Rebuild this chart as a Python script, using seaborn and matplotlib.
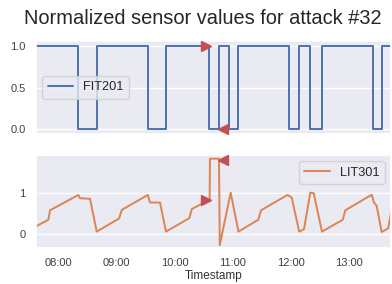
import pandas as pd
import numpy as np
import matplotlib
matplotlib.use("Agg")
import matplotlib.pyplot as plt
import matplotlib.dates as mdates
import seaborn as sns

# ---- data ----
fit_times = ["07:36:00", "08:20:30", "08:39:30", "09:32:20", "09:51:10", "10:36:00",
             "10:46:20", "10:56:40", "11:05:20", "11:58:50", "12:08:50", "12:20:10",
             "12:32:20", "13:25:00", "13:34:20", "13:47:00"]
fit_vals = [1, 0, 1, 0, 1, 0, 1, 0, 1, 0, 1, 0, 1, 0, 1, 1]

lit_times = ["07:36:00", "07:49:25", "07:51:10", "08:20:30", "08:22:10", "08:32:35",
             "08:39:30", "09:02:35", "09:05:25", "09:32:20", "09:34:40", "09:45:00",
             "09:51:10", "10:15:20", "10:17:50", "10:36:20", "10:36:40", "10:46:00",
             "10:46:50", "10:58:05", "11:06:10", "11:26:40", "11:29:30", "11:56:55",
             "12:01:15", "12:09:00", "12:14:00", "12:20:30", "12:24:00", "12:32:35",
             "12:54:05", "12:56:40", "13:24:00", "13:26:25", "13:29:10", "13:34:20",
             "13:41:10", "13:45:00", "13:47:00"]
lit_vals = [0.17, 0.34, 0.57, 0.945, 0.865, 0.85, 0.05, 0.37, 0.58, 0.945, 0.76, 0.76,
            0.05, 0.38, 0.6, 0.83, 1.83, 1.83, -0.28, 1.0, 0.05, 0.34, 0.57, 0.945,
            0.88, 0.05, 0.11, 1.0, 0.99, 0.05, 0.34, 0.57, 0.95, 0.76, 0.68, 0.04,
            0.13, 0.66, 0.9]

attack_times = ["10:33:00", "10:50:00"]
fit_marks = [1.0, 0.0]
lit_marks = [0.82, 1.8]

day = "2015-12-28 "
fit_df = pd.DataFrame({"Timestamp": pd.to_datetime([day + t for t in fit_times]),
                       "FIT201": fit_vals})
lit_df = pd.DataFrame({"Timestamp": pd.to_datetime([day + t for t in lit_times]),
                       "LIT301": lit_vals})
att = pd.to_datetime([day + t for t in attack_times])

sns.set_theme(style="darkgrid")
plt.rcParams["font.family"] = ["Liberation Sans", "DejaVu Sans"]
plt.rcParams["xtick.major.pad"] = 1.5
plt.rcParams["ytick.major.pad"] = 1.5

W, H = 392, 284
fig = plt.figure(figsize=(W / 100, H / 100), dpi=100)
ax1 = fig.add_axes([36 / W, (H - 134) / H, 355 / W, 93 / H])
ax2 = fig.add_axes([36 / W, (H - 248) / H, 355 / W, 93 / H], sharex=ax1)

blue = "#4C72B0"
orange = "#DD8452"
red = "#C44E52"

sns.lineplot(data=fit_df, x="Timestamp", y="FIT201", ax=ax1, color=blue, lw=1.4,
             estimator=None, sort=False, drawstyle="steps-post", label="FIT201")
sns.lineplot(data=lit_df, x="Timestamp", y="LIT301", ax=ax2, color=orange, lw=1.4,
             estimator=None, sort=False, label="LIT301")

for ax, vals in ((ax1, fit_marks), (ax2, lit_marks)):
    ax.plot([att[0]], [vals[0]], marker=">", color=red, markersize=7, ls="none", zorder=5)
    ax.plot([att[1]], [vals[1]], marker="<", color=red, markersize=7, ls="none", zorder=5)

xmin = pd.Timestamp(day + "07:36:40")
xmax = pd.Timestamp(day + "13:44:00")
ax1.set_xlim(xmin, xmax)
ax1.set_ylim(-0.055, 1.055)
ax2.set_ylim(-0.35, 1.92)
ax1.set_yticks([0.0, 0.5, 1.0])
ax2.set_yticks([0, 1])

for ax in (ax1, ax2):
    ax.grid(axis="x", visible=False)
    ax.tick_params(labelsize=8, colors="#404040")
    ax.set_ylabel("")
ax1.tick_params(axis="x", labelbottom=False)
ax1.set_xlabel("")
ax2.set_xlabel("Timestamp", fontsize=8.5, color="#333333", labelpad=1)
ax2.xaxis.set_major_locator(mdates.HourLocator())
ax2.xaxis.set_major_formatter(mdates.DateFormatter("%H:%M"))

ax1.legend(loc="center left", fontsize=9.2)
ax2.legend(loc="upper right", fontsize=9.2)

fig.text(24 / W, 1 - 18 / H, "Normalized sensor values for attack #32",
         ha="left", va="center", fontsize=14.4, color="#262626")

fig.savefig("out.png", dpi=100)
